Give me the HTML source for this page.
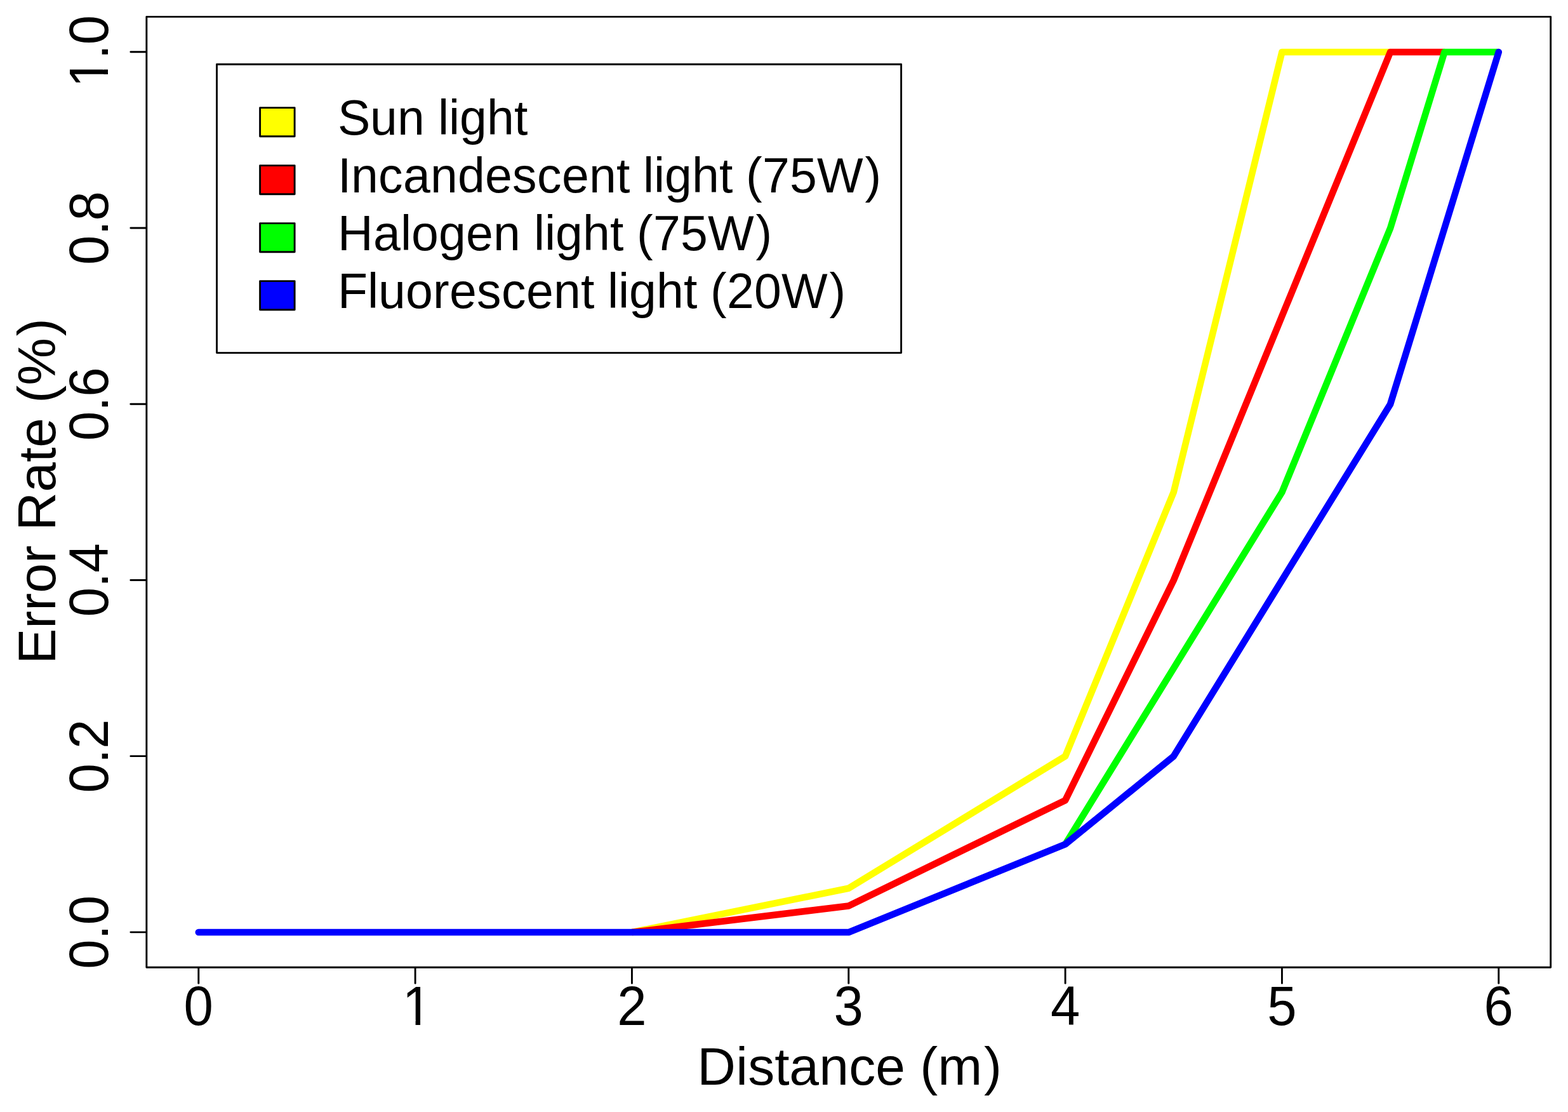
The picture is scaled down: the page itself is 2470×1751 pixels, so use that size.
<!DOCTYPE html>
<html lang="en">
<head>
<meta charset="utf-8">
<title>Error Rate vs Distance</title>
<style>
html,body{margin:0;padding:0;background:#fff;}
body{width:2470px;height:1751px;}
svg{display:block;}
text{font-family:"Liberation Sans",sans-serif;fill:#000;}
.ax{font-size:84px;}
.tk{font-size:83.33px;}
.lg{font-size:77px;}
.k{stroke:#000;stroke-width:2.9;fill:none;stroke-linecap:round;stroke-linejoin:round;}
.d{stroke-width:10.6;fill:none;stroke-linecap:round;stroke-linejoin:round;}
</style>
</head>
<body>
<svg width="2470" height="1751" viewBox="0 0 2470 1751" role="img" aria-label="Error Rate (%) versus Distance (m) for four light sources">
<rect x="0" y="0" width="2470" height="1751" fill="#fff"/>
<defs>
<clipPath id="c1"><rect x="-60" y="-90" width="120" height="82.47"/><rect x="0.48" y="-10" width="7.46" height="14"/></clipPath>
<clipPath id="c10"><rect x="-80" y="-90" width="160" height="82.47"/><rect x="-35.12" y="-10" width="7.46" height="14"/><rect x="-10.58" y="-10" width="80" height="40"/></clipPath>
</defs>
<g>
<polyline class="d" stroke="#FFFF00" stroke-linecap="butt" style="stroke-linecap:butt" points="995.44,1468.06 1336.77,1398.75 1678.11,1190.84 1848.78,775.02 2019.44,81.98 2190.11,81.98"/>
<polyline class="d" stroke="#FF0000" stroke-linecap="butt" style="stroke-linecap:butt" points="995.44,1468.06 1336.77,1426.47 1678.11,1260.15 1848.78,913.63 2019.44,497.81 2190.11,81.98 2275.45,81.98"/>
<polyline class="d" stroke="#00FF00" stroke-linecap="butt" style="stroke-linecap:butt" points="1678.11,1329.45 1848.78,1052.23 2019.44,775.02 2190.11,359.2 2275.45,81.98 2360.78,81.98"/>
<polyline class="d" stroke="#0000FF" points="312.77,1468.06 654.11,1468.06 995.44,1468.06 1336.77,1468.06 1678.11,1329.45 1848.78,1190.84 2019.44,913.63 2190.11,636.41 2275.45,359.2 2360.78,81.98"/>
</g>
<rect class="k" x="230.85" y="26.34" width="2211.85" height="1496.96"/>
<g>
<line class="k" x1="312.77" y1="1524.3" x2="312.77" y2="1548.3"/>
<text class="tk" text-anchor="middle" transform="translate(312.77 1614.2) scale(1 1.049)">0</text>
<line class="k" x1="654.11" y1="1524.3" x2="654.11" y2="1548.3"/>
<text class="tk" clip-path="url(#c1)" text-anchor="start" x="-20.42" transform="translate(654.11 1614.2) scale(1 1.049)">1</text>
<line class="k" x1="995.44" y1="1524.3" x2="995.44" y2="1548.3"/>
<text class="tk" text-anchor="middle" transform="translate(995.44 1614.2) scale(1 1.049)">2</text>
<line class="k" x1="1336.77" y1="1524.3" x2="1336.77" y2="1548.3"/>
<text class="tk" text-anchor="middle" transform="translate(1336.77 1614.2) scale(1 1.049)">3</text>
<line class="k" x1="1678.11" y1="1524.3" x2="1678.11" y2="1548.3"/>
<text class="tk" text-anchor="middle" transform="translate(1678.11 1614.2) scale(1 1.049)">4</text>
<line class="k" x1="2019.44" y1="1524.3" x2="2019.44" y2="1548.3"/>
<text class="tk" text-anchor="middle" transform="translate(2019.44 1614.2) scale(1 1.049)">5</text>
<line class="k" x1="2360.78" y1="1524.3" x2="2360.78" y2="1548.3"/>
<text class="tk" text-anchor="middle" transform="translate(2360.78 1614.2) scale(1 1.049)">6</text>
</g>
<g>
<line class="k" x1="229.85" y1="1467.86" x2="205.85" y2="1467.86"/>
<text class="tk" text-anchor="middle" transform="translate(170.3 1467.86) rotate(-90) scale(1 1.049)">0.0</text>
<line class="k" x1="229.85" y1="1190.64" x2="205.85" y2="1190.64"/>
<text class="tk" text-anchor="middle" transform="translate(170.3 1190.64) rotate(-90) scale(1 1.049)">0.2</text>
<line class="k" x1="229.85" y1="913.43" x2="205.85" y2="913.43"/>
<text class="tk" text-anchor="middle" transform="translate(170.3 913.43) rotate(-90) scale(1 1.049)">0.4</text>
<line class="k" x1="229.85" y1="636.21" x2="205.85" y2="636.21"/>
<text class="tk" text-anchor="middle" transform="translate(170.3 636.21) rotate(-90) scale(1 1.049)">0.6</text>
<line class="k" x1="229.85" y1="359" x2="205.85" y2="359"/>
<text class="tk" text-anchor="middle" transform="translate(170.3 359) rotate(-90) scale(1 1.049)">0.8</text>
<line class="k" x1="229.85" y1="81.78" x2="205.85" y2="81.78"/>
<text class="tk" clip-path="url(#c10)" text-anchor="start" x="-56.02 -11.58 11.58" transform="translate(170.3 81.78) rotate(-90) scale(1 1.049)">1.0</text>
</g>
<text class="ax" x="1098.3 1159.3 1178.3 1220.3 1243.3 1290.3 1337.3 1379.3 1426.3 1449.3 1477.3 1549.9" y="1708">Distance (m)</text>
<text class="ax" x="-271 -215 -187 -159 -112 -84 -61 0 47 70 117 140 168 245.6" transform="translate(87 774.8) rotate(-90)">Error Rate (%)</text>
<g>
<rect class="k" x="341.5" y="101.3" width="1078.1" height="454.3" fill="#fff" style="fill:#fff"/>
<rect class="k" x="409.6" y="169.6" width="54.5" height="45.2" style="fill:#FFFF00"/>
<text class="lg" x="532 583 626 669 690 707 724 767 810" y="212">Sun light</text>
<rect class="k" x="409.6" y="260.6" width="54.5" height="45.2" style="fill:#FF0000"/>
<text class="lg" x="532 553 596 635 678 721 764 807 846 885 928 971 992 1013 1030 1047 1090 1133 1154 1175 1201 1244 1287 1362.39" y="302.9">Incandescent light (75W)</text>
<rect class="k" x="409.6" y="351.6" width="54.5" height="45.2" style="fill:#00FF00"/>
<text class="lg" x="532 588 631 648 691 734 777 820 841 858 875 918 961 982 1003 1029 1072 1115 1190.39" y="393.8">Halogen light (75W)</text>
<rect class="k" x="409.6" y="442.6" width="54.5" height="45.2" style="fill:#0000FF"/>
<text class="lg" x="532 579 596 639 682 708 751 790 829 872 915 936 957 974 991 1034 1077 1098 1119 1145 1188 1231 1306.39" y="484.7">Fluorescent light (20W)</text>
</g>
</svg>
</body>
</html>
